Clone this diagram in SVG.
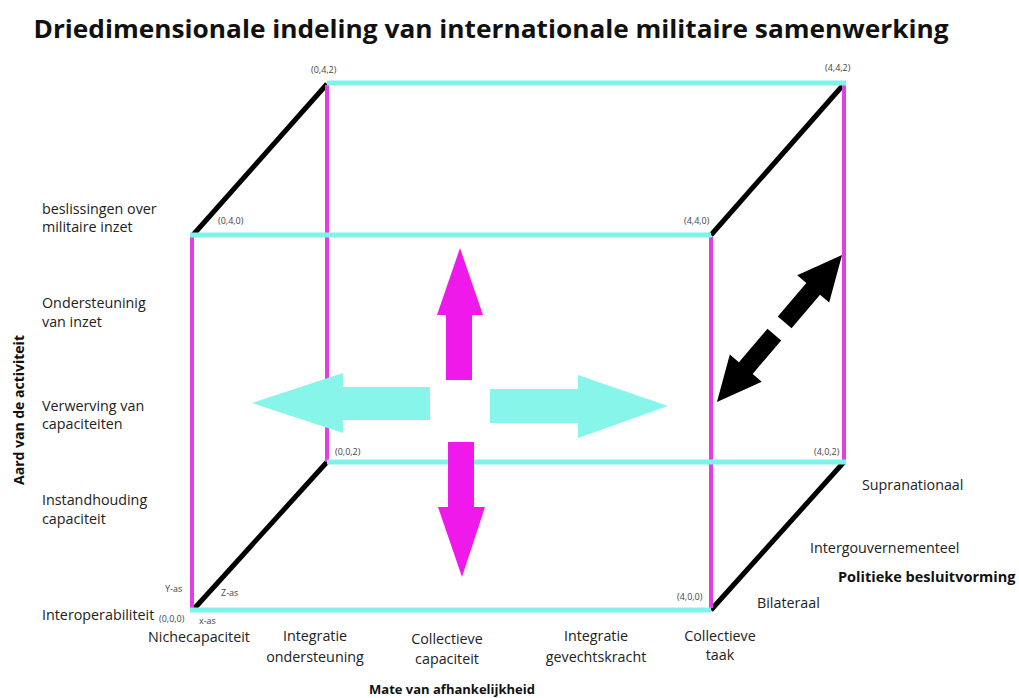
<svg xmlns="http://www.w3.org/2000/svg" width="1019" height="698" viewBox="0 0 1019 698">
<style>
.t{font-family:"Open Sans","Liberation Sans",sans-serif;font-size:14.3px;fill:#222}
.b{font-family:"Open Sans","Liberation Sans",sans-serif;font-weight:bold;fill:#111}
.s{font-family:"Open Sans","Liberation Sans",sans-serif;font-size:9px;fill:#444}
.c{stroke:#7ff3e9;stroke-width:5;fill:none}
.m{stroke:#e23fe2;stroke-width:4;fill:none}
.k{stroke:#000;stroke-width:5;fill:none}
</style>
<rect width="1019" height="698" fill="#fff"/>
<text class="b" x="491" y="38" font-size="25" text-anchor="middle" textLength="915" lengthAdjust="spacingAndGlyphs">Driedimensionale indeling van internationale militaire samenwerking</text>
<g id="connectors">
<line class="k" x1="193" y1="235" x2="327" y2="84"/>
<line class="k" x1="711" y1="235" x2="844" y2="84"/>
<line class="k" x1="193" y1="610" x2="327" y2="462"/>
<line class="k" x1="711" y1="610" x2="844" y2="462"/>
<line class="m" x1="327" y1="85" x2="327" y2="462"/>
<line class="m" x1="844" y1="85" x2="844" y2="462"/>
<line class="m" x1="192" y1="237" x2="192" y2="608"/>
<line class="m" x1="711" y1="237" x2="711" y2="608"/>
<line class="c" x1="327" y1="83" x2="846" y2="83"/>
<line class="c" x1="190" y1="235" x2="711" y2="235"/>
<line class="c" x1="327" y1="462" x2="846" y2="462"/>
<line class="c" x1="190" y1="610" x2="711" y2="610"/>
</g>
<g id="arrows">
<polygon fill="#f019ec" points="460,248 483,315 472,315 472,380 446,380 446,315 437,315"/>
<polygon fill="#f019ec" points="462,577 485,507 474,507 474,442 448,442 448,507 438,507"/>
<polygon fill="#87f5ea" points="252,403 343,373 343,387 430,387 430,420 343,420 343,433"/>
<polygon fill="#87f5ea" points="668,406 578,375 578,389 490,389 490,423 578,423 578,438"/>
<g transform="translate(779.5,328.5) rotate(-49.6)">
<polygon fill="#000" points="96.5,0 52,-21 52,-9 8,-9 8,9 52,9 52,21"/>
<polygon fill="#000" points="-96.5,0 -52,-21 -52,-9 -8,-9 -8,9 -52,9 -52,21"/>
</g>
</g>
<g id="coords">
<text class="s" x="311" y="73">(0,4,2)</text>
<text class="s" x="825" y="71">(4,4,2)</text>
<text class="s" x="218" y="224">(0,4,0)</text>
<text class="s" x="684" y="224">(4,4,0)</text>
<text class="s" x="335" y="455">(0,0,2)</text>
<text class="s" x="814" y="455">(4,0,2)</text>
<text class="s" x="677" y="600">(4,0,0)</text>
<text class="s" x="159" y="622">(0,0,0)</text>
<text class="s" x="165" y="592">Y-as</text>
<text class="s" x="221" y="596">Z-as</text>
<text class="s" x="199" y="624" font-size="7">x-as</text>
</g>
<g id="y-axis">
<text class="b" font-size="14" transform="translate(24,410) rotate(-90)" text-anchor="middle">Aard van de activiteit</text>
<text class="t" x="42" y="214">beslissingen over</text>
<text class="t" x="42" y="232">militaire inzet</text>
<text class="t" x="42" y="308">Ondersteuninig</text>
<text class="t" x="42" y="327">van inzet</text>
<text class="t" x="42" y="411">Verwerving van</text>
<text class="t" x="42" y="429">capaciteiten</text>
<text class="t" x="42" y="505">Instandhouding</text>
<text class="t" x="42" y="524">capaciteit</text>
<text class="t" x="42" y="620">Interoperabiliteit</text>
</g>
<g id="x-axis">
<text class="t" x="199" y="642" text-anchor="middle">Nichecapaciteit</text>
<text class="t" x="315" y="641" text-anchor="middle">Integratie</text>
<text class="t" x="315" y="662" text-anchor="middle">ondersteuning</text>
<text class="t" x="447" y="644" text-anchor="middle">Collectieve</text>
<text class="t" x="447" y="664" text-anchor="middle">capaciteit</text>
<text class="t" x="596" y="641" text-anchor="middle">Integratie</text>
<text class="t" x="596" y="662" text-anchor="middle">gevechtskracht</text>
<text class="t" x="720" y="641" text-anchor="middle">Collectieve</text>
<text class="t" x="720" y="660" text-anchor="middle">taak</text>
<text class="b" font-size="13" x="452" y="694" text-anchor="middle">Mate van afhankelijkheid</text>
</g>
<g id="z-axis">
<text class="t" x="862" y="490">Supranationaal</text>
<text class="t" x="810" y="553">Intergouvernementeel</text>
<text class="b" font-size="14.5" x="838" y="582">Politieke besluitvorming</text>
<text class="t" x="757" y="608">Bilateraal</text>
</g>
</svg>
